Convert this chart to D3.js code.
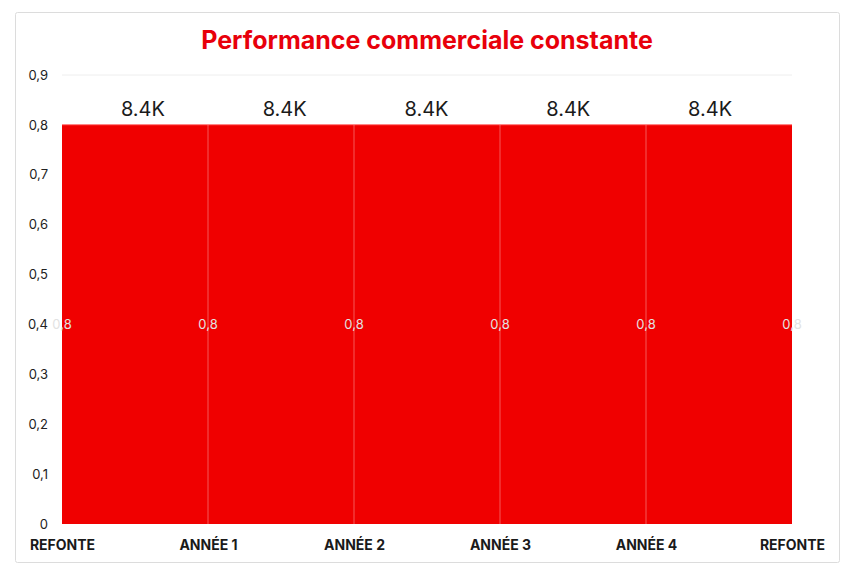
<!DOCTYPE html>
<html>
<head>
<meta charset="utf-8">
<script src="https://cdn.jsdelivr.net/npm/d3@7"></script>
<style>
  body { margin: 0; background: #fff; font-family: Inter, "Liberation Sans", sans-serif; }
</style>
</head>
<body>
<div id="chart"></div>
<script>
// data
var categories = ["REFONTE", "ANNÉE 1", "ANNÉE 2", "ANNÉE 3", "ANNÉE 4", "REFONTE"];
var values = [0.8, 0.8, 0.8, 0.8, 0.8, 0.8];
var segmentLabels = ["8.4K", "8.4K", "8.4K", "8.4K", "8.4K"];
var yTicks = [0, 0.1, 0.2, 0.3, 0.4, 0.5, 0.6, 0.7, 0.8, 0.9];

var width = 853, height = 579;
var red = "#f00000";

var svg = d3.select("#chart").append("svg")
    .attr("width", width)
    .attr("height", height);

// card border
svg.append("rect")
    .attr("x", 15.5).attr("y", 12.5)
    .attr("width", 824).attr("height", 550)
    .attr("rx", 2)
    .attr("fill", "#fff")
    .attr("stroke", "#dcdcdc");

// title
svg.append("text")
    .attr("x", 427).attr("y", 49)
    .attr("text-anchor", "middle")
    .style("font-size", "25px")
    .style("font-weight", 700)
    .style("fill", "#e8000b")
    .text("Performance commerciale constante");

var margin = {left: 62, right: 61, top: 75, bottom: 55};
var x = d3.scalePoint()
    .domain(d3.range(categories.length))
    .range([margin.left, width - margin.right]);
var y = d3.scaleLinear()
    .domain([0, 0.9])
    .range([height - margin.bottom, margin.top]);

// top gridline
svg.append("line")
    .attr("x1", x(0)).attr("x2", x(categories.length - 1))
    .attr("y1", y(0.9)).attr("y2", y(0.9))
    .attr("stroke", "#eeeeee");

// area
var area = d3.area()
    .x((d, i) => x(i))
    .y0(y(0))
    .y1(d => y(d));

svg.append("path")
    .datum(values)
    .attr("d", area)
    .attr("fill", red);

svg.append("path")
    .datum(values)
    .attr("d", d3.line().x((d, i) => x(i)).y(d => y(d)))
    .attr("fill", "none")
    .attr("stroke", "#ff3b3b")
    .attr("stroke-width", 1);

// vertical lines at each category
svg.selectAll(".vline")
    .data(categories.slice(1, -1))
    .enter().append("line")
    .attr("x1", (d, i) => x(i + 1)).attr("x2", (d, i) => x(i + 1))
    .attr("y1", y(0)).attr("y2", y(values[0]))
    .attr("stroke", "rgba(255,255,255,0.35)")
    .attr("stroke-width", 1);

// y axis labels
var yAxis = svg.append("g")
    .attr("transform", `translate(${margin.left - 14},0)`)
    .call(d3.axisLeft(y).tickValues(yTicks).tickSize(0)
        .tickFormat(d => d === 0 ? "0" : d3.format(".1f")(d).replace(".", ",")));
yAxis.select(".domain").remove();
yAxis.selectAll("text")
    .attr("x", 0)
    .style("font-family", "Inter, 'Liberation Sans', sans-serif")
    .style("font-size", "13px")
    .style("fill", "#222");

// x axis labels
var xAxis = svg.append("g")
    .attr("transform", `translate(0,${y(0)})`)
    .call(d3.axisBottom(x).tickSize(0).tickFormat(i => categories[i]));
xAxis.select(".domain").remove();
xAxis.selectAll("text")
    .attr("y", 16)
    .style("font-family", "Inter, 'Liberation Sans', sans-serif")
    .style("font-size", "14px")
    .style("font-weight", 700)
    .style("fill", "#1a1a1a");

// value labels on points
svg.selectAll(".vlabel")
    .data(values)
    .enter().append("text")
    .attr("x", (d, i) => x(i))
    .attr("y", d => y(d / 2) + 5)
    .attr("text-anchor", "middle")
    .style("font-size", "13px")
    .style("fill", "#e2e2e2")
    .text(d => d3.format(".1f")(d).replace(".", ","));

// segment labels above area
var xs = d3.scaleBand()
    .domain(d3.range(segmentLabels.length))
    .range([72, 781]);
svg.selectAll(".slabel")
    .data(segmentLabels)
    .enter().append("text")
    .attr("x", (d, i) => xs(i) + xs.bandwidth() / 2)
    .attr("y", y(0.8) - 9)
    .attr("text-anchor", "middle")
    .style("font-size", "20px")
    .style("fill", "#1a1a1a")
    .text(d => d);
</script>
</body>
</html>
